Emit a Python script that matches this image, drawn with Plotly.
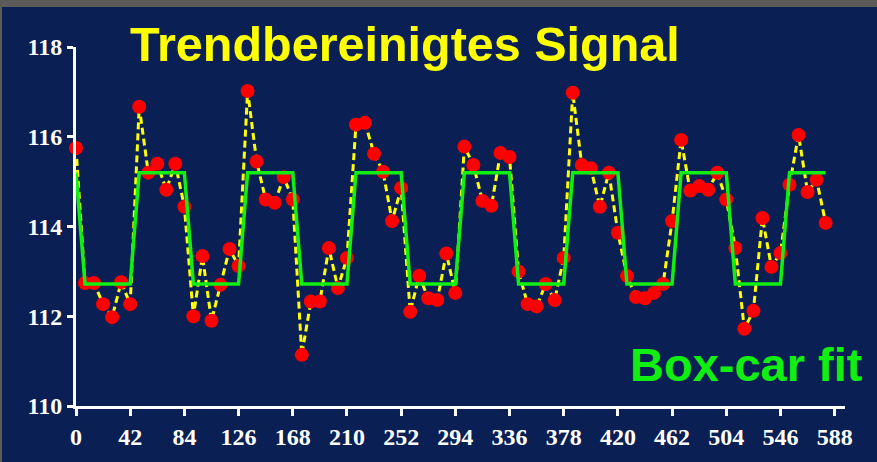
import plotly.graph_objects as go

# Sampling positions (one sample every 7 units)
x_vals = [7 * i for i in range(84)]

# Detrended signal values
signal = [
    115.75, 112.74, 112.74, 112.27, 111.98, 112.76, 112.27, 116.67, 115.20, 115.40,
    114.82, 115.40, 114.44, 112.00, 113.34, 111.90, 112.70, 113.50, 113.12, 117.02,
    115.45, 114.60, 114.53, 115.10, 114.60, 111.14, 112.33, 112.33, 113.52, 112.63,
    113.30, 116.27, 116.31, 115.62, 115.22, 114.12, 114.86, 112.10, 112.90, 112.40,
    112.36, 113.40, 112.52, 115.78, 115.37, 114.57, 114.46, 115.64, 115.55, 113.00,
    112.27, 112.22, 112.72, 112.36, 113.30, 116.98, 115.37, 115.30, 114.44, 115.20,
    113.86, 112.90, 112.43, 112.40, 112.52, 112.72, 114.12, 115.93, 114.80, 114.90,
    114.82, 115.20, 114.60, 113.52, 111.72, 112.12, 114.19, 113.10, 113.41, 114.93,
    116.04, 114.77, 115.04, 114.08,
]

# Box-car fit levels at each sample
HI, LO = 115.2, 112.72
boxcar = [
    HI, LO, LO, LO, LO, LO, LO, HI, HI, HI, HI, HI, HI,
    LO, LO, LO, LO, LO, LO, HI, HI, HI, HI, HI, HI,
    LO, LO, LO, LO, LO, LO, HI, HI, HI, HI, HI, HI,
    LO, LO, LO, LO, LO, LO, HI, HI, HI, HI, HI, HI,
    LO, LO, LO, LO, LO, LO, HI, HI, HI, HI, HI, HI,
    LO, LO, LO, LO, LO, LO, HI, HI, HI, HI, HI, HI,
    LO, LO, LO, LO, LO, LO, HI, HI, HI, HI, HI,
]

x_ticks = list(range(0, 589, 42))
y_ticks = [110, 112, 114, 116, 118]

BG = "#0A1F54"
W, H = 877, 462
ML, MR, MT, MB = 76, 32, 47, 56
PW, PH = W - ML - MR, H - MT - MB


def px_to_paper(px, py):
    return (px - ML) / PW, (H - MB - py) / PH


fig = go.Figure()

fig.add_trace(go.Scatter(
    x=x_vals, y=signal, mode="lines",
    line=dict(color="#FFFF00", width=3, dash="7px,4px"),
    cliponaxis=False, hoverinfo="skip", showlegend=False,
))
fig.add_trace(go.Scatter(
    x=x_vals, y=signal, mode="markers",
    marker=dict(color="#FF0000", size=14, line=dict(width=0)),
    cliponaxis=False, showlegend=False,
))
fig.add_trace(go.Scatter(
    x=x_vals, y=boxcar, mode="lines",
    line=dict(color="#11EE11", width=3.5),
    cliponaxis=False, showlegend=False,
))

tick_font = dict(family="Liberation Serif", size=24, color="white", weight="bold")

fig.update_xaxes(
    range=[0, 596], tickvals=x_ticks, ticktext=[str(v) for v in x_ticks],
    showgrid=False, zeroline=False, showline=True, linecolor="white", linewidth=3,
    ticks="outside", ticklen=7, tickwidth=3, tickcolor="white",
    tickfont=tick_font, fixedrange=True,
)
fig.update_yaxes(
    range=[110, 118], tickvals=y_ticks, ticktext=[str(v) for v in y_ticks],
    showgrid=False, zeroline=False, showline=True, linecolor="white", linewidth=3,
    ticks="outside", ticklen=6, tickwidth=3, tickcolor="white",
    tickfont=tick_font, fixedrange=True,
)

# Grey frame strips along the top and left edges
gx0, _ = px_to_paper(0, 0)
gx1, _ = px_to_paper(2, 0)
_, gy_top = px_to_paper(0, 0)
_, gy_bot = px_to_paper(0, 7)
right_edge, _ = px_to_paper(W, 0)
_, bottom_edge = px_to_paper(0, H)
shapes = [
    dict(type="rect", xref="paper", yref="paper", x0=gx0, x1=right_edge,
         y0=gy_bot, y1=gy_top, fillcolor="#5C5B58", line=dict(width=0), layer="above"),
    dict(type="rect", xref="paper", yref="paper", x0=gx0, x1=gx1,
         y0=bottom_edge, y1=gy_top, fillcolor="#5C5B58", line=dict(width=0), layer="above"),
]

tx, ty = px_to_paper(404.5, 44)
bx, by = px_to_paper(746.5, 364)
annotations = [
    dict(text="<b>Trendbereinigtes Signal</b>", x=tx, y=ty, xref="paper", yref="paper",
         xanchor="center", yanchor="middle", showarrow=False,
         font=dict(family="Liberation Sans", size=48.5, color="#FFFF00")),
    dict(text="<b>Box-car fit</b>", x=bx, y=by, xref="paper", yref="paper",
         xanchor="center", yanchor="middle", showarrow=False,
         font=dict(family="Liberation Sans", size=47, color="#11EE11")),
]

fig.update_layout(
    width=W, height=H,
    margin=dict(l=ML, r=MR, t=MT, b=MB, autoexpand=False),
    paper_bgcolor=BG, plot_bgcolor=BG,
    shapes=shapes, annotations=annotations,
    showlegend=False,
)

fig.write_html("out.html", config={"displayModeBar": False})
